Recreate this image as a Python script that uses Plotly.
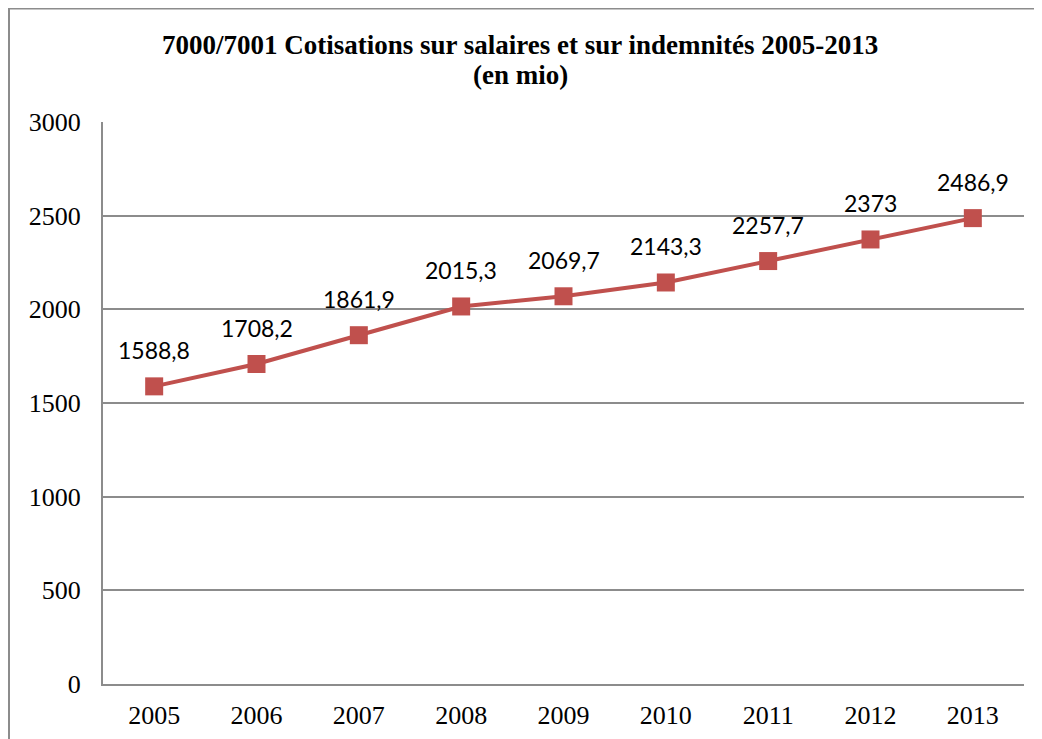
import plotly.graph_objects as go

years = ["2005", "2006", "2007", "2008", "2009", "2010", "2011", "2012", "2013"]
values = [1588.8, 1708.2, 1861.9, 2015.3, 2069.7, 2143.3, 2257.7, 2373, 2486.9]
labels = ["1588,8", "1708,2", "1861,9", "2015,3", "2069,7", "2143,3", "2257,7", "2373", "2486,9"]
yticks = [0, 500, 1000, 1500, 2000, 2500, 3000]
title_lines = ["7000/7001 Cotisations sur salaires et sur indemnités 2005-2013", "(en mio)"]

OFF = 8  # page body margin
W, H = 1042 - OFF, 739 - OFF
L, R, T, B = 103 - OFF, 18, 122 - OFF, 55
pw, ph = W - L - R, H - T - B

serif = "Liberation Serif, Times New Roman, serif"

fig = go.Figure()
fig.add_trace(go.Scatter(
    x=years, y=values, mode="lines+markers",
    line=dict(color="#C0504D", width=4),
    marker=dict(symbol="square", size=18, color="#C0504D"),
    hoverinfo="skip",
))
for i, (y, t) in enumerate(zip(values, labels)):
    fig.add_annotation(x=i, y=y, xref="x", yref="y", text=t, showarrow=False, yshift=36,
                       font=dict(family="Lato, Carlito, sans-serif", size=23, color="#000000"))

# two-line title as paper annotations
for line, ypix in zip(title_lines, [45, 75]):
    fig.add_annotation(x=(520 - OFF - L) / pw, y=(H - B - (ypix - OFF)) / ph, xref="paper", yref="paper",
                       text="<b>" + line + "</b>", showarrow=False, xanchor="center", yanchor="middle",
                       font=dict(family=serif, size=27, color="#000000"))

fig.add_shape(type="rect", xref="paper", yref="paper",
              x0=(1 - L) / pw, x1=(W + 40 - L) / pw,
              y0=-(B + 40) / ph, y1=(H - B) / ph - 0.5 / ph,
              line=dict(color="#8c8c8c", width=2), layer="below")

fig.update_layout(
    width=W, height=H,
    margin=dict(l=L, r=R, t=T, b=B, autoexpand=False),
    paper_bgcolor="white", plot_bgcolor="white",
    showlegend=False,
    xaxis=dict(type="category", range=[-0.5, 8.5], showgrid=False, showline=True, automargin=False,
               linecolor="#8c8c8c", linewidth=2, ticks="", ticklabelstandoff=7,
               tickfont=dict(family=serif, size=26, color="#000000")),
    yaxis=dict(range=[0, 3000], tickvals=yticks, showgrid=True, gridcolor="#8c8c8c", gridwidth=1.5,
               showline=True, linecolor="#8c8c8c", linewidth=2, ticks="", ticklabelstandoff=15,
               zeroline=False, automargin=False,
               tickfont=dict(family=serif, size=26, color="#000000")),
)
fig.write_html("out.html")
